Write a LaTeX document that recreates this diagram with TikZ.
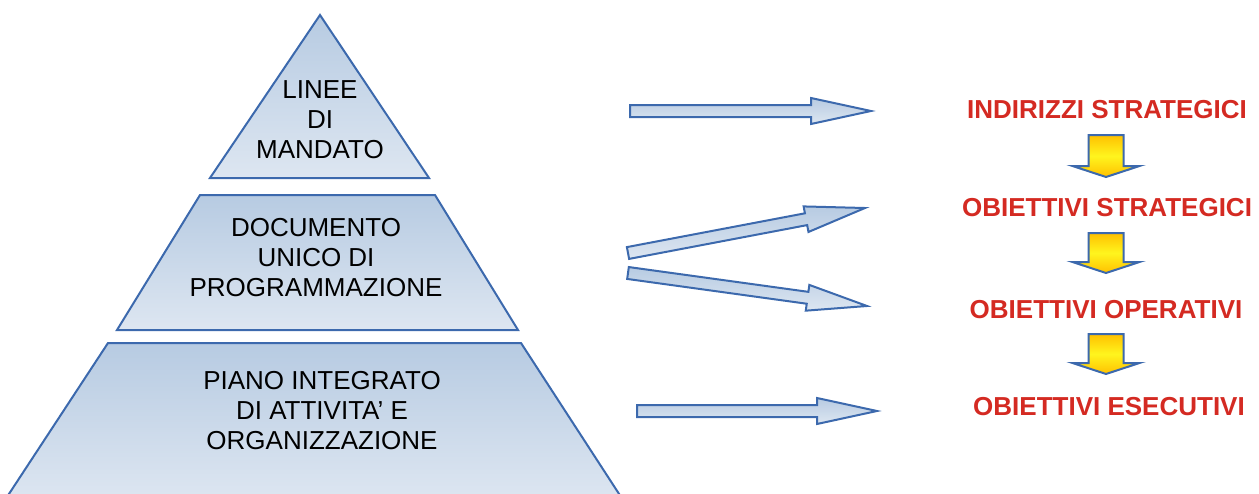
\documentclass[tikz,border=0pt]{standalone}
\usepackage{fontspec}
\setmainfont{Liberation Sans}
\usetikzlibrary{calc}

\definecolor{pyrtop}{HTML}{B7CBE2}
\definecolor{pyrbot}{HTML}{DDE6F1}
\definecolor{pyrline}{HTML}{3C69AD}
\definecolor{goalred}{HTML}{D42A22}
\definecolor{goldtop}{HTML}{FFC000}
\definecolor{goldmid}{HTML}{FFF51E}

% block arrow: [style]{from}{to}{shaft half width}{head half width}{head length}
\newcommand{\blockarrow}[6][]{%
  \path let \p1=($(#3)-(#2)$) in \pgfextra{%
    \pgfmathsetmacro\barang{atan2(\y1,\x1)}%
    \pgfmathsetmacro\barlen{veclen(\x1,\y1)}%
    \global\let\barang\barang\global\let\barlen\barlen};
  \shade[#1, shift={(#2)}, rotate=\barang]
    (0pt,-#4) -- ({\barlen pt-#6},-#4) -- ({\barlen pt-#6},-#5) -- (\barlen pt,0pt)
    -- ({\barlen pt-#6},#5) -- ({\barlen pt-#6},#4) -- (0pt,#4) -- cycle;
}

\begin{document}
\begin{tikzpicture}[x=0.5pt, y=-0.5pt,
    layer/.style={draw=pyrline, line width=1pt, top color=pyrtop, bottom color=pyrbot},
    layertext/.style={align=center, font=\fontsize{13}{15}\selectfont},
    goal/.style={font=\fontsize{13}{15}\selectfont\bfseries, text=goalred},
    fat/.style={draw=pyrline, line width=1pt, top color=pyrtop, bottom color=pyrbot},
    gold/.style={draw=pyrline, line width=1pt, top color=goldtop, bottom color=goldtop, middle color=goldmid},
]
\useasboundingbox (0,0) rectangle (1259,493);
\clip (0,0) rectangle (1259,493);

% ================== Pyramid ==================
\shade[layer] (320,15) -- (429,178) -- (210,178) -- cycle;
\shade[layer] (200,195) -- (435,195) -- (518,330) -- (117,330) -- cycle;
\shade[layer] (108,343) -- (521,343) -- (623,500) -- (5,500) -- cycle;

\node[layertext] (mandato) at (320,120) {LINEE\\DI\\MANDATO};
\node[layertext] (dup) at (316,258) {DOCUMENTO\\UNICO DI\\PROGRAMMAZIONE};
\node[layertext] (piao) at (322,411) {PIANO INTEGRATO\\DI ATTIVITA' E\\ORGANIZZAZIONE};

% ================== Goals ==================
\node[goal] (indir) at (1107,110) {INDIRIZZI STRATEGICI};
\node[goal] (obstrat) at (1107,208) {OBIETTIVI STRATEGICI};
\node[goal] (oboper) at (1106,310) {OBIETTIVI OPERATIVI};
\node[goal] (obesec) at (1109,407) {OBIETTIVI ESECUTIVI};

\coordinate (g1a) at ($(indir)+(-1,25)$);
\coordinate (g1b) at ($(obstrat)+(-1,-31)$);
\coordinate (g2a) at ($(obstrat)+(-1,25)$);
\coordinate (g2b) at ($(oboper)+(0,-37)$);
\coordinate (g3a) at ($(oboper)+(0,24)$);
\coordinate (g3b) at ($(obesec)+(-3,-33)$);

\blockarrow[gold]{g1a}{g1b}{8.75pt}{16.75pt}{5.5pt}
\blockarrow[gold]{g2a}{g2b}{8.75pt}{16.75pt}{5.5pt}
\blockarrow[gold]{g3a}{g3b}{8.75pt}{16.75pt}{5.5pt}

% ================== Links ==================
\coordinate (m1) at (630,111);
\coordinate (m1e) at (871,111);
\coordinate (d1) at (628,253);
\coordinate (d1e) at (865,208);
\coordinate (d2) at (628,273);
\coordinate (d2e) at (867,306);
\coordinate (p1) at (637,411);
\coordinate (p1e) at (877,411);

\blockarrow[fat]{m1}{m1e}{3pt}{6.5pt}{30pt}
\blockarrow[fat]{d1}{d1e}{3pt}{6.5pt}{30pt}
\blockarrow[fat]{d2}{d2e}{3pt}{6.5pt}{30pt}
\blockarrow[fat]{p1}{p1e}{3pt}{6.5pt}{30pt}

\end{tikzpicture}
\end{document}
